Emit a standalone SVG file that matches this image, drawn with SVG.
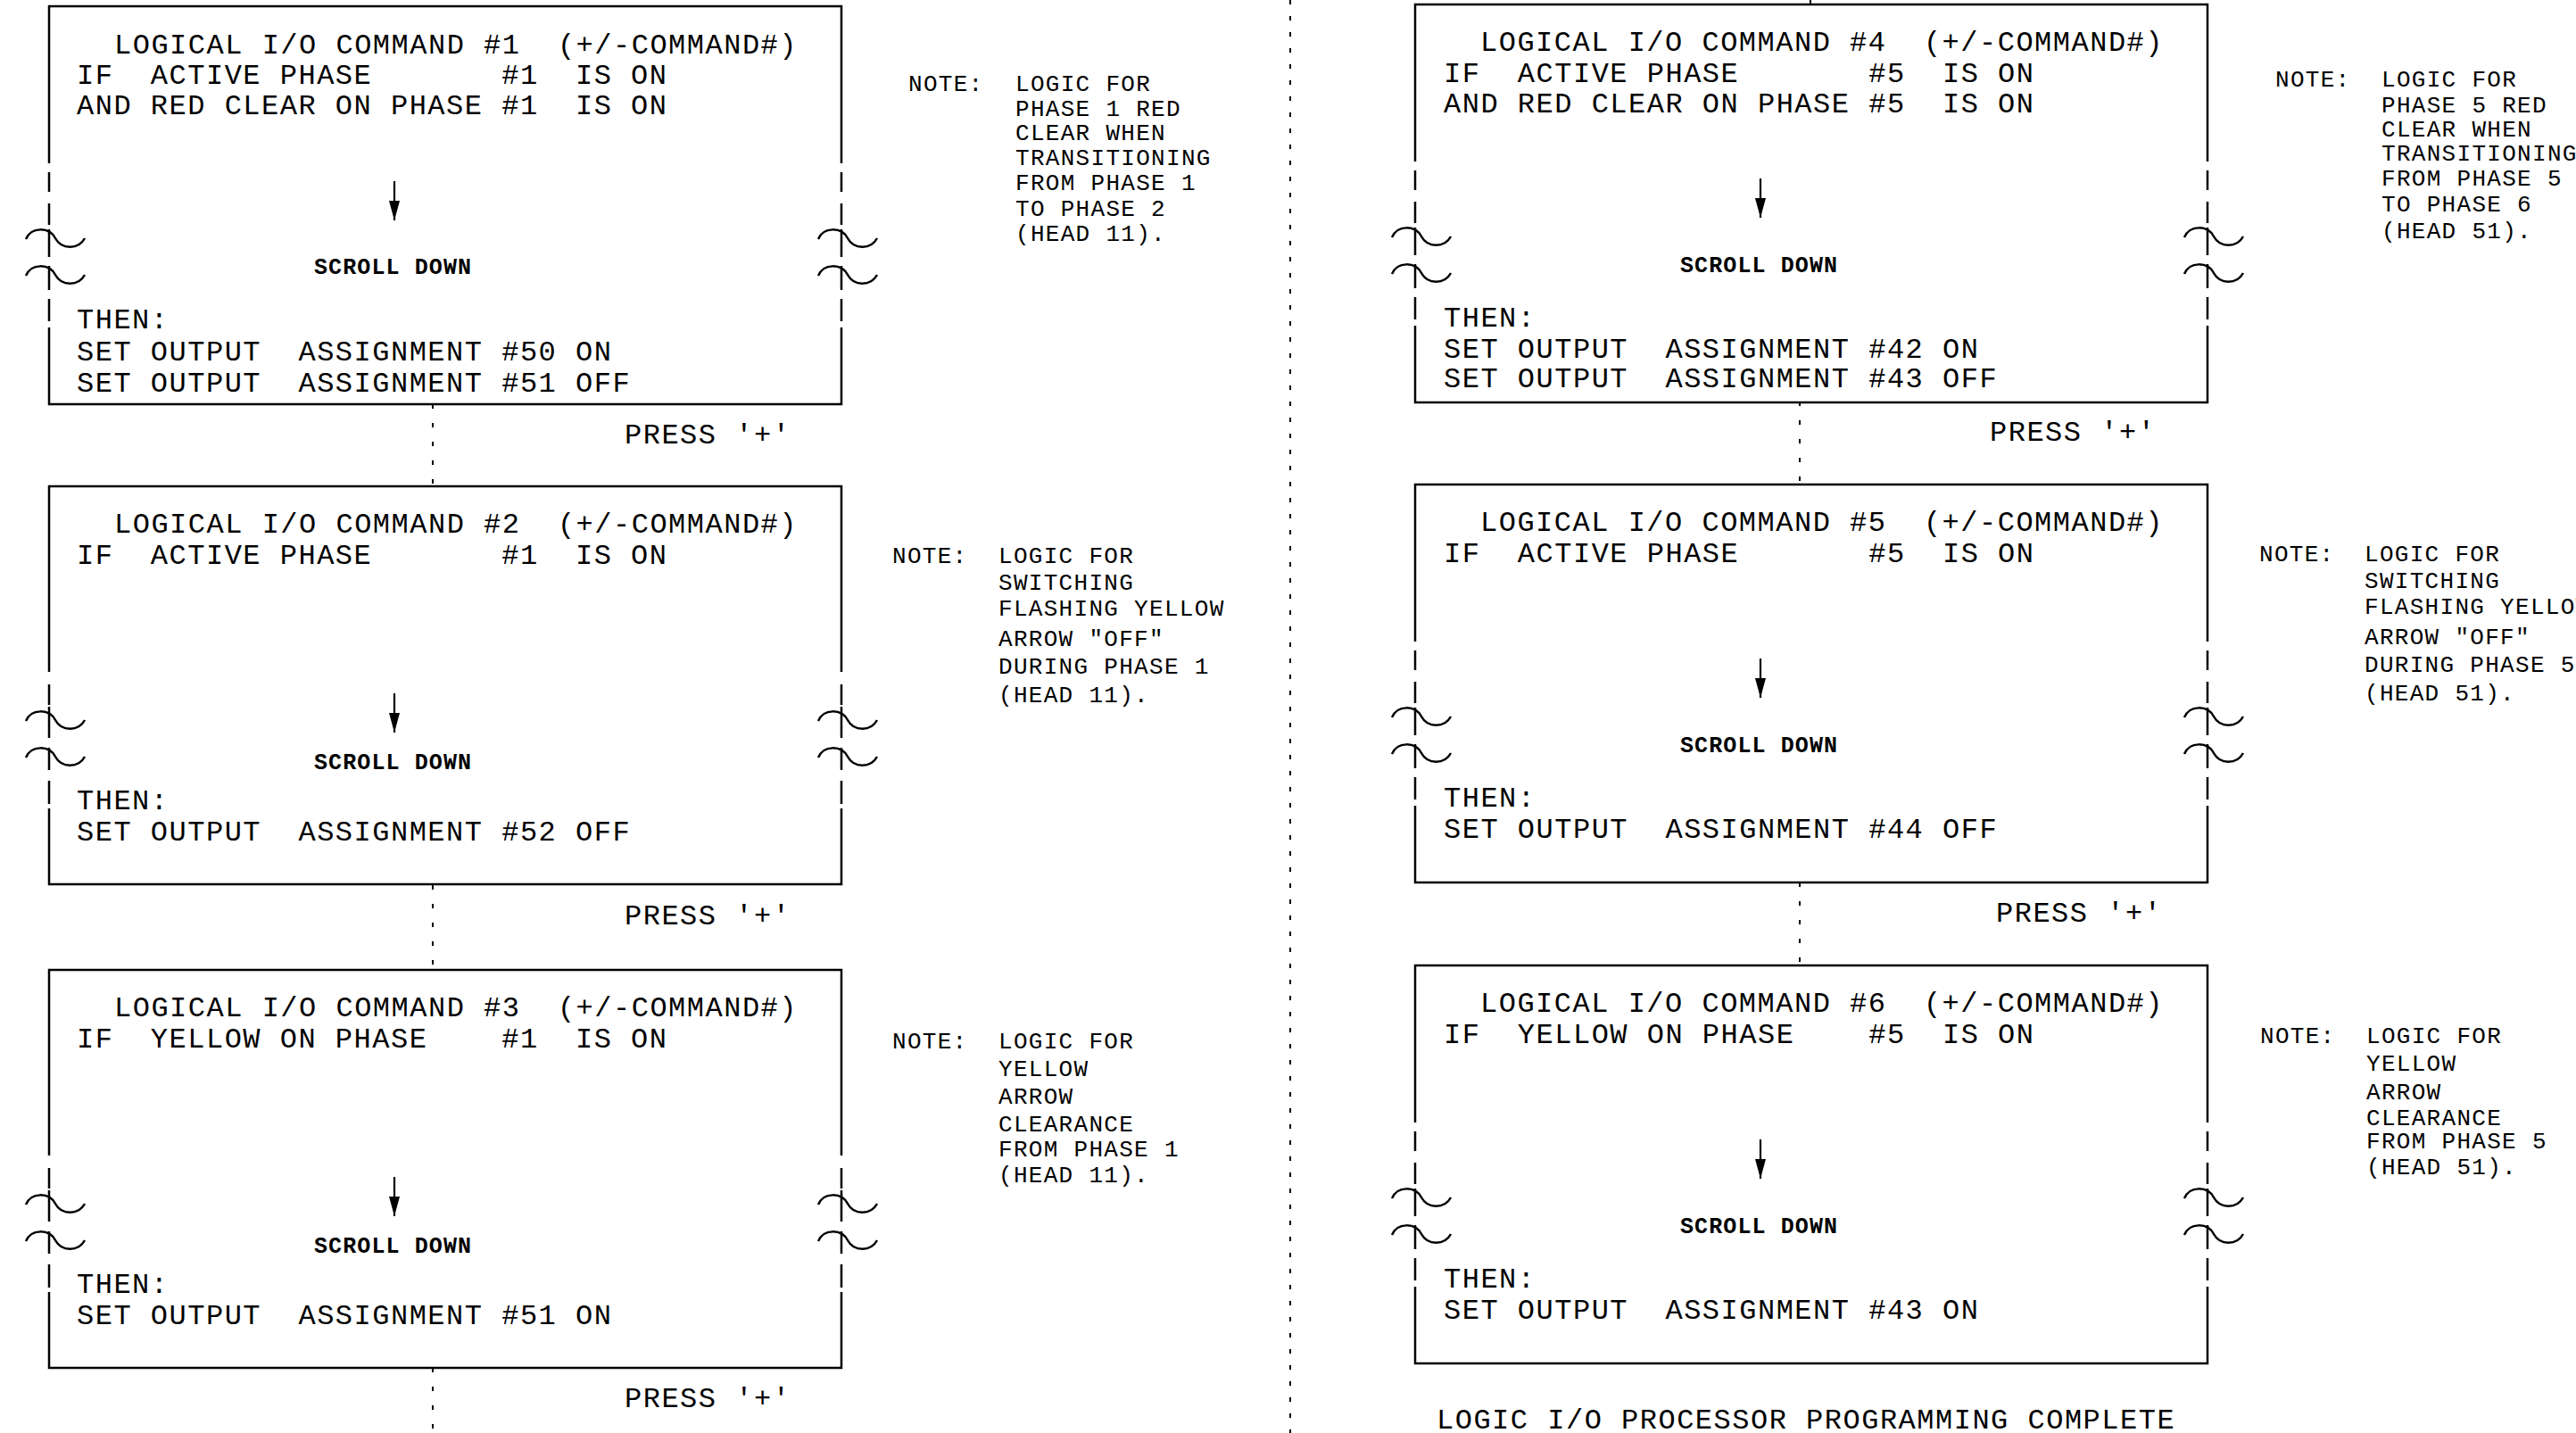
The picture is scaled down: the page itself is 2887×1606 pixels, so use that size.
<svg xmlns="http://www.w3.org/2000/svg" xmlns:xlink="http://www.w3.org/1999/xlink" width="2887" height="1606" viewBox="0 0 2887 1606">
<style>
text{white-space:pre}
.frame{fill:none;stroke:#000;stroke-width:2.5}
.sq{fill:none;stroke:#000;stroke-width:2.5}
.t{font-family:"Liberation Mono","DejaVu Sans Mono",monospace;font-size:32px;letter-spacing:1.5px;fill:#000}
.s{font-family:"Liberation Mono","DejaVu Sans Mono",monospace;font-size:25px;font-weight:bold;letter-spacing:1.1px;fill:#000}
.n{font-family:"Liberation Mono","DejaVu Sans Mono",monospace;font-size:26px;letter-spacing:1.3px;fill:#000}
.arr{stroke:#000;stroke-width:2.2}
.conn{fill:none;stroke:#000;stroke-width:2;stroke-dasharray:5 16}
.div{fill:none;stroke:#000;stroke-width:2;stroke-dasharray:5 13}
</style>
<defs>
<marker id="ah" markerUnits="userSpaceOnUse" markerWidth="24" markerHeight="12" refX="22" refY="6" orient="auto" viewBox="0 0 22 12">
<path d="M0,0 L22,6 L0,12 z" fill="#000"/>
</marker>
<path id="sq" class="sq" d="M-26,11 C-20,-3 0,-3 7,10 C14,23 33,23 40,10"/>
<path id="frameA" class="frame" d="M0,176 V0 H888 V176 M0,360 V446 H888 V360 M0,186 V208 M0,221 V245 M0,250 V281 M0,291 V318 M0,328 V353 M888,186 V208 M888,221 V245 M888,250 V281 M888,291 V318 M888,328 V353"/>
<path id="frameB" class="frame" d="M0,208 V0 H888 V208 M0,361 V446 H888 V361 M0,222 V245 M0,247 V282 M0,293 V318 M0,330 V356 M888,222 V245 M888,247 V282 M888,293 V318 M888,330 V356"/>
<g id="breaksA"><use xlink:href="#sq" x="0" y="250"/><use xlink:href="#sq" x="0" y="291"/><use xlink:href="#sq" x="888" y="250"/><use xlink:href="#sq" x="888" y="291"/></g>
<g id="breaksB"><use xlink:href="#sq" x="0" y="252"/><use xlink:href="#sq" x="0" y="293"/><use xlink:href="#sq" x="888" y="252"/><use xlink:href="#sq" x="888" y="293"/></g>
</defs>
<rect x="0" y="0" width="2887" height="1606" fill="#fff"/>

<g id="connectors">
<line class="div" x1="1446" y1="0" x2="1446" y2="1606"/>
<line class="conn" x1="485" y1="453" x2="485" y2="545"/>
<line class="conn" x1="485" y1="992" x2="485" y2="1087"/>
<line class="conn" x1="485" y1="1533" x2="485" y2="1606"/>
<line stroke="#000" stroke-width="2" x1="2029" y1="0" x2="2029" y2="5"/>
<line class="conn" x1="2017" y1="450" x2="2017" y2="543"/>
<line class="conn" x1="2017" y1="989" x2="2017" y2="1082"/>
</g>

<g id="cmd1" transform="translate(55,7)">
<use xlink:href="#frameA"/><use xlink:href="#breaksA"/>
<text class="t" xml:space="preserve" x="73" y="53">LOGICAL I/O COMMAND #1  (+/-COMMAND#)</text>
<text class="t" xml:space="preserve" x="31" y="87">IF  ACTIVE PHASE       #1  IS ON</text>
<text class="t" xml:space="preserve" x="31" y="121">AND RED CLEAR ON PHASE #1  IS ON</text>
<line class="arr" x1="387" y1="196" x2="387" y2="240" marker-end="url(#ah)"/>
<text class="s" x="297" y="300">SCROLL DOWN</text>
<text class="t" x="31" y="361">THEN:</text>
<text class="t" xml:space="preserve" x="31" y="397">SET OUTPUT  ASSIGNMENT #50 ON</text>
<text class="t" xml:space="preserve" x="31" y="432">SET OUTPUT  ASSIGNMENT #51 OFF</text>
</g>
<text id="press1" class="t" x="700" y="497">PRESS '+'</text>

<g id="cmd2" transform="translate(55,545)">
<use xlink:href="#frameB"/><use xlink:href="#breaksB"/>
<text class="t" xml:space="preserve" x="73" y="52">LOGICAL I/O COMMAND #2  (+/-COMMAND#)</text>
<text class="t" xml:space="preserve" x="31" y="87">IF  ACTIVE PHASE       #1  IS ON</text>
<line class="arr" x1="387" y1="232" x2="387" y2="276" marker-end="url(#ah)"/>
<text class="s" x="297" y="317">SCROLL DOWN</text>
<text class="t" x="31" y="362">THEN:</text>
<text class="t" xml:space="preserve" x="31" y="397">SET OUTPUT  ASSIGNMENT #52 OFF</text>
</g>
<text id="press2" class="t" x="700" y="1036">PRESS '+'</text>

<g id="cmd3" transform="translate(55,1087)">
<use xlink:href="#frameB"/><use xlink:href="#breaksB"/>
<text class="t" xml:space="preserve" x="73" y="52">LOGICAL I/O COMMAND #3  (+/-COMMAND#)</text>
<text class="t" xml:space="preserve" x="31" y="87">IF  YELLOW ON PHASE    #1  IS ON</text>
<line class="arr" x1="387" y1="232" x2="387" y2="276" marker-end="url(#ah)"/>
<text class="s" x="297" y="317">SCROLL DOWN</text>
<text class="t" x="31" y="362">THEN:</text>
<text class="t" xml:space="preserve" x="31" y="397">SET OUTPUT  ASSIGNMENT #51 ON</text>
</g>
<text id="press3" class="t" x="700" y="1577">PRESS '+'</text>

<g id="cmd4" transform="translate(1586,5)">
<use xlink:href="#frameA"/><use xlink:href="#breaksA"/>
<text class="t" xml:space="preserve" x="73" y="52">LOGICAL I/O COMMAND #4  (+/-COMMAND#)</text>
<text class="t" xml:space="preserve" x="32" y="87">IF  ACTIVE PHASE       #5  IS ON</text>
<text class="t" xml:space="preserve" x="32" y="121">AND RED CLEAR ON PHASE #5  IS ON</text>
<line class="arr" x1="387" y1="195" x2="387" y2="239" marker-end="url(#ah)"/>
<text class="s" x="297" y="300">SCROLL DOWN</text>
<text class="t" x="32" y="361">THEN:</text>
<text class="t" xml:space="preserve" x="32" y="396">SET OUTPUT  ASSIGNMENT #42 ON</text>
<text class="t" xml:space="preserve" x="32" y="429">SET OUTPUT  ASSIGNMENT #43 OFF</text>
</g>
<text id="press4" class="t" x="2230" y="494">PRESS '+'</text>

<g id="cmd5" transform="translate(1586,543)">
<use xlink:href="#frameA"/><use xlink:href="#breaksA"/>
<text class="t" xml:space="preserve" x="73" y="52">LOGICAL I/O COMMAND #5  (+/-COMMAND#)</text>
<text class="t" xml:space="preserve" x="32" y="87">IF  ACTIVE PHASE       #5  IS ON</text>
<line class="arr" x1="387" y1="195" x2="387" y2="239" marker-end="url(#ah)"/>
<text class="s" x="297" y="300">SCROLL DOWN</text>
<text class="t" x="32" y="361">THEN:</text>
<text class="t" xml:space="preserve" x="32" y="396">SET OUTPUT  ASSIGNMENT #44 OFF</text>
</g>
<text id="press5" class="t" x="2237" y="1033">PRESS '+'</text>

<g id="cmd6" transform="translate(1586,1082)">
<use xlink:href="#frameA"/><use xlink:href="#breaksA"/>
<text class="t" xml:space="preserve" x="73" y="52">LOGICAL I/O COMMAND #6  (+/-COMMAND#)</text>
<text class="t" xml:space="preserve" x="32" y="87">IF  YELLOW ON PHASE    #5  IS ON</text>
<line class="arr" x1="387" y1="195" x2="387" y2="239" marker-end="url(#ah)"/>
<text class="s" x="297" y="300">SCROLL DOWN</text>
<text class="t" x="32" y="361">THEN:</text>
<text class="t" xml:space="preserve" x="32" y="396">SET OUTPUT  ASSIGNMENT #43 ON</text>
</g>

<text id="complete" class="t" x="1610" y="1601">LOGIC I/O PROCESSOR PROGRAMMING COMPLETE</text>

<g id="note1">
<text class="n" x="1018" y="102">NOTE:</text>
<text class="n"><tspan x="1138" y="102">LOGIC FOR</tspan><tspan x="1138" y="130">PHASE 1 RED</tspan><tspan x="1138" y="157">CLEAR WHEN</tspan><tspan x="1138" y="185">TRANSITIONING</tspan><tspan x="1138" y="213">FROM PHASE 1</tspan><tspan x="1138" y="242">TO PHASE 2</tspan><tspan x="1138" y="270">(HEAD 11).</tspan></text>
</g>
<g id="note2">
<text class="n" x="1000" y="631">NOTE:</text>
<text class="n"><tspan x="1119" y="631">LOGIC FOR</tspan><tspan x="1119" y="661">SWITCHING</tspan><tspan x="1119" y="690">FLASHING YELLOW</tspan><tspan x="1119" y="724">ARROW "OFF"</tspan><tspan x="1119" y="755">DURING PHASE 1</tspan><tspan x="1119" y="787">(HEAD 11).</tspan></text>
</g>
<g id="note3">
<text class="n" x="1000" y="1175">NOTE:</text>
<text class="n"><tspan x="1119" y="1175">LOGIC FOR</tspan><tspan x="1119" y="1206">YELLOW</tspan><tspan x="1119" y="1237">ARROW</tspan><tspan x="1119" y="1268">CLEARANCE</tspan><tspan x="1119" y="1296">FROM PHASE 1</tspan><tspan x="1119" y="1325">(HEAD 11).</tspan></text>
</g>
<g id="note4">
<text class="n" x="2550" y="97">NOTE:</text>
<text class="n"><tspan x="2669" y="97">LOGIC FOR</tspan><tspan x="2669" y="126">PHASE 5 RED</tspan><tspan x="2669" y="153">CLEAR WHEN</tspan><tspan x="2669" y="180">TRANSITIONING</tspan><tspan x="2669" y="208">FROM PHASE 5</tspan><tspan x="2669" y="237">TO PHASE 6</tspan><tspan x="2669" y="267">(HEAD 51).</tspan></text>
</g>
<g id="note5">
<text class="n" x="2532" y="629">NOTE:</text>
<text class="n"><tspan x="2650" y="629">LOGIC FOR</tspan><tspan x="2650" y="659">SWITCHING</tspan><tspan x="2650" y="688">FLASHING YELLOW</tspan><tspan x="2650" y="722">ARROW "OFF"</tspan><tspan x="2650" y="753">DURING PHASE 5</tspan><tspan x="2650" y="785">(HEAD 51).</tspan></text>
</g>
<g id="note6">
<text class="n" x="2533" y="1169">NOTE:</text>
<text class="n"><tspan x="2652" y="1169">LOGIC FOR</tspan><tspan x="2652" y="1200">YELLOW</tspan><tspan x="2652" y="1232">ARROW</tspan><tspan x="2652" y="1261">CLEARANCE</tspan><tspan x="2652" y="1287">FROM PHASE 5</tspan><tspan x="2652" y="1316">(HEAD 51).</tspan></text>
</g>
</svg>
